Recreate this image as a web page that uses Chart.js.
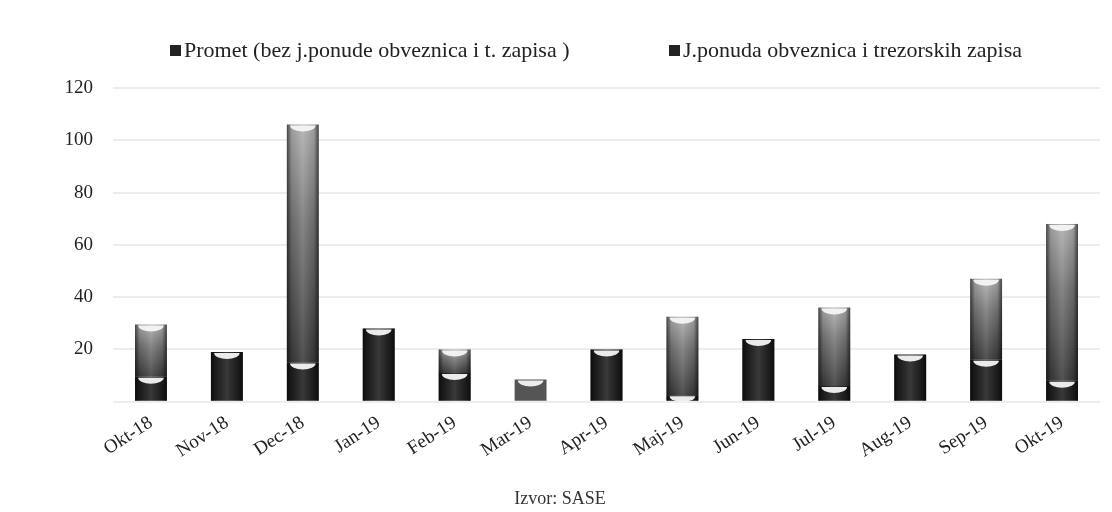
<!DOCTYPE html>
<html>
<head>
<meta charset="utf-8">
<script src="https://cdn.jsdelivr.net/npm/chart.js@4/dist/chart.umd.min.js"></script>
<style>
    html, body { margin: 0; padding: 0; background: #fff; }
    #wrap { width: 1112px; height: 512px; position: relative; }
    #legend {
        position: absolute; top: 38px; left: 170px; width: 852px;
        display: flex; justify-content: space-between;
        font-family: 'Liberation Serif', 'DejaVu Serif', serif;
        font-size: 22px; color: #222; line-height: 24px;
    }
    #legend .box {
        display: inline-block; width: 11px; height: 11px; background: #222;
        margin-right: 3px; vertical-align: 1px;
    }
</style>
</head>
<body>
<div id="wrap"><canvas id="chart"></canvas><div id="legend"></div></div>
<script>
// Data
const months = ['Okt-18', 'Nov-18', 'Dec-18', 'Jan-19', 'Feb-19', 'Mar-19', 'Apr-19',
                'Maj-19', 'Jun-19', 'Jul-19', 'Aug-19', 'Sep-19', 'Okt-19'];
const promet = [9.5, 19, 15, 28, 11, 8.5, 20, 2.5, 24, 6, 18, 16, 8];
const jPonuda = [20, 0, 91, 0, 9, 0, 0, 30, 0, 30, 0, 31, 60];
const yTicks = [0, 20, 40, 60, 80, 100, 120];

const serif = "'Liberation Serif', 'DejaVu Serif', serif";
const flatIndex = months.indexOf('Mar-19');

// vertical gradient for each J.ponuda bar, computed from the y scale
function ponudaFill(ctx) {
    const chart = ctx.chart;
    const y = chart.scales.y;
    if (ctx.type !== 'data' || !chart.chartArea || !y) return '#777';
    const i = ctx.dataIndex;
    const top = y.getPixelForValue(promet[i] + jPonuda[i]);
    const bottom = y.getPixelForValue(promet[i]);
    if (!isFinite(top) || !isFinite(bottom) || top >= bottom) return '#777';
    const g = chart.ctx.createLinearGradient(0, top, 0, bottom);
    g.addColorStop(0, '#b0b0b0');
    g.addColorStop(0.4, '#777');
    g.addColorStop(1, '#3a3a3a');
    return g;
}

function prometFill(ctx) {
    return ctx.dataIndex === flatIndex ? '#555' : '#1e1e1e';
}

// side shading + light cap on top of every segment (cylinder look)
const cylinderLook = {
    id: 'cylinderLook',
    afterDatasetsDraw(chart) {
        const c = chart.ctx;
        chart.data.datasets.forEach((ds, di) => {
            const meta = chart.getDatasetMeta(di);
            meta.data.forEach((bar, i) => {
                if (!ds.data[i]) return;
                const p = bar.getProps(['x', 'y', 'width', 'base'], true);
                const left = p.x - p.width / 2;
                c.save();
                if (i !== flatIndex) {
                    const g = c.createLinearGradient(left, 0, left + p.width, 0);
                    g.addColorStop(0, 'rgba(0,0,0,0.6)');
                    g.addColorStop(0.15, 'rgba(0,0,0,0.1)');
                    g.addColorStop(0.5, 'rgba(255,255,255,0.12)');
                    g.addColorStop(0.85, 'rgba(0,0,0,0.1)');
                    g.addColorStop(1, 'rgba(0,0,0,0.6)');
                    c.fillStyle = g;
                    c.fillRect(left, p.y, p.width, p.base - p.y);
                }
                c.beginPath();
                c.ellipse(p.x, p.y + 1, p.width * 0.4, 6, 0, 0, Math.PI);
                c.fillStyle = 'rgba(246,246,246,0.95)';
                c.fill();
                c.restore();
            });
        });
    }
};

const chart = new Chart(document.getElementById('chart'), {
    type: 'bar',
    data: {
        labels: months,
        datasets: [{
            label: 'Promet (bez j.ponude obveznica i t. zapisa )',
            data: promet,
            backgroundColor: prometFill,
            barPercentage: 0.42,
            categoryPercentage: 1
        }, {
            label: 'J.ponuda obveznica i trezorskih zapisa',
            data: jPonuda,
            backgroundColor: ponudaFill,
            barPercentage: 0.42,
            categoryPercentage: 1
        }]
    },
    options: {
        responsive: true,
        maintainAspectRatio: false,
        animation: false,
        layout: { padding: { top: 88, left: 20, right: 12, bottom: 2 } },
        plugins: {
            legend: { display: false },
            subtitle: {
                display: true,
                position: 'bottom',
                text: 'Izvor: SASE',
                font: { family: serif, size: 18 },
                color: '#333',
                padding: { top: 24, bottom: 0 }
            },
            tooltip: { enabled: false }
        },
        scales: {
            x: {
                stacked: true,
                grid: { display: false },
                border: { display: false },
                ticks: {
                    maxRotation: 33,
                    minRotation: 33,
                    font: { family: serif, size: 19 },
                    color: '#222',
                    padding: 2
                }
            },
            y: {
                stacked: true,
                min: 0,
                max: 120,
                afterBuildTicks(scale) {
                    scale.ticks = yTicks.map(v => ({ value: v }));
                },
                afterFit(scale) {
                    scale.width = 93;
                },
                ticks: {
                    padding: 20,
                    font: { family: serif, size: 19 },
                    color: '#222',
                    callback: v => v === 0 ? '' : v
                },
                grid: { color: '#ededed', lineWidth: 2, drawTicks: false },
                border: { display: false }
            }
        }
    },
    plugins: [cylinderLook]
});

// HTML legend built from the datasets
document.getElementById('legend').innerHTML = chart.data.datasets
    .map(ds => `<span><span class="box"></span>${ds.label}</span>`)
    .join('');
</script>
</body>
</html>
